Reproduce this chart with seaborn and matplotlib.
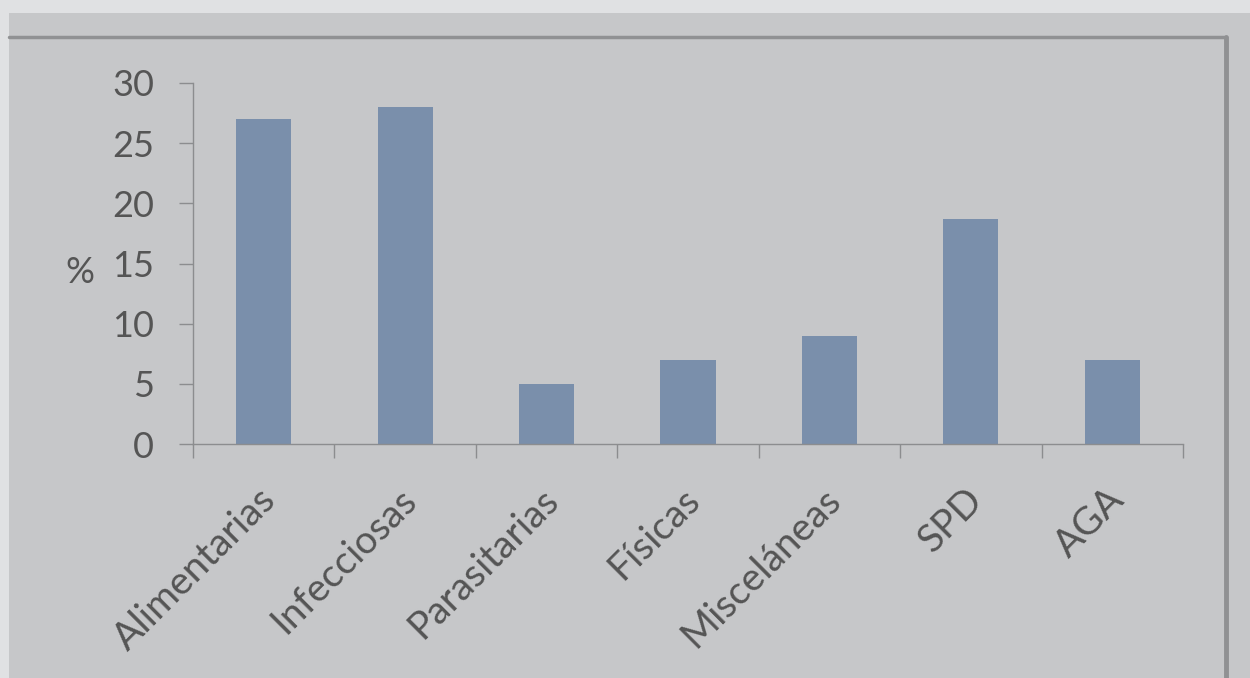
import pandas as pd
import seaborn as sns
import matplotlib.pyplot as plt
import matplotlib.transforms as mtransforms
from matplotlib.lines import Line2D
from matplotlib.patches import Rectangle

categories = ['Alimentarias', 'Infecciosas', 'Parasitarias', 'Físicas', 'Misceláneas', 'SPD', 'AGA']
values = [27, 28, 5, 7, 9, 18.7, 7]
y_ticks = [0, 5, 10, 15, 20, 25, 30]

text_color = '#555555'
axis_color = '#8c8d8f'
panel_color = '#c6c7c9'

sns.set_style('white')
plt.rcParams['font.family'] = ['Lato', 'DejaVu Sans']

fig = plt.figure(figsize=(12.5, 6.78), dpi=100)
fig.patch.set_facecolor('#e0e1e3')
# inner grey panel with frame (behind the axes)
fig.patches.append(Rectangle((9 / 1250, 0), 1, 1 - 13 / 678, transform=fig.transFigure,
                             facecolor=panel_color, edgecolor='none', zorder=-10))
fig.lines.append(Line2D([9 / 1250, 1226 / 1250], [1 - 37 / 678, 1 - 37 / 678], transform=fig.transFigure,
                        color='#909193', lw=2.5, zorder=-5))
fig.lines.append(Line2D([1226 / 1250, 1226 / 1250], [0, 1 - 37 / 678], transform=fig.transFigure,
                        color='#909193', lw=3.5, zorder=-5))

ax = fig.add_axes([193 / 1250, 1 - 444 / 678, 990 / 1250, 361 / 678])
ax.set_facecolor('none')

df = pd.DataFrame({'cat': categories, 'val': values})
sns.barplot(data=df, x='cat', y='val', color='#7a8fab', saturation=1, width=0.39,
            linewidth=0, edgecolor='none', ax=ax)

ax.set_xlim(-0.5, len(categories) - 0.5)
ax.set_ylim(0, 30)
ax.set_yticks(y_ticks)
ax.set_yticklabels([str(t) for t in y_ticks])
ax.set_xticks(range(len(categories)))
ax.set_xticklabels(categories, rotation=45, ha='right', va='center', rotation_mode='anchor')
ax.set_xticks([i - 0.5 for i in range(len(categories) + 1)], minor=True)

ax.tick_params(axis='x', which='major', length=0, pad=36, labelsize=28, labelcolor=text_color)
ax.tick_params(axis='x', which='minor', length=10, width=1, color=axis_color, direction='out', bottom=True)
ax.tick_params(axis='y', length=10, width=1, color=axis_color, direction='out', left=True,
               pad=18, labelsize=26, labelcolor=text_color)

# shift the rotated labels a little to the right of the bar centre
shift = mtransforms.ScaledTranslation(6 / 100, 0, fig.dpi_scale_trans)
for lbl in ax.get_xticklabels():
    lbl.set_transform(lbl.get_transform() + shift)

for s in ['top', 'right']:
    ax.spines[s].set_visible(False)
for s in ['left', 'bottom']:
    ax.spines[s].set_color(axis_color)
    ax.spines[s].set_linewidth(1)

ax.set_xlabel('')
ax.set_ylabel('%', rotation=0, fontsize=26, color=text_color, va='center', ha='center')
ax.yaxis.set_label_coords(-0.114, 0.476)

fig.savefig('out.png', dpi=100, facecolor=fig.get_facecolor())
